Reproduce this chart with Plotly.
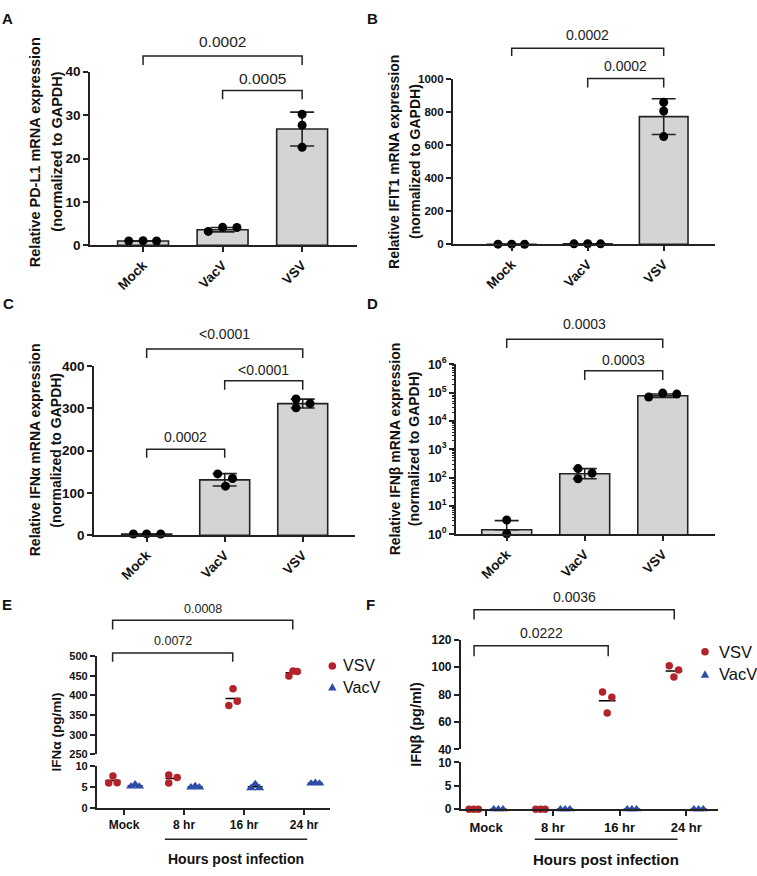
import numpy as np
import plotly.graph_objects as go

# ---------------- data ----------------
bar_groups = ["Mock", "VacV", "VSV"]

pdl1_points = [[1.0, 1.05, 1.0], [3.2, 4.15, 4.1], [30.2, 27.7, 22.6]]
pdl1_mean = [1.0, 3.6, 26.8]
pdl1_sd = [0.05, 0.5, 3.9]

ifit1_points = [[1.0, 1.2, 0.9], [3.0, 3.5, 3.0], [861.0, 808.0, 653.0]]
ifit1_mean = [1.0, 3.2, 774.0]
ifit1_sd = [0.15, 0.3, 108.0]

ifna_points = [[3.0, 3.2, 2.9], [145.0, 116.0, 134.0], [322.0, 301.0, 311.0]]
ifna_mean = [3.0, 131.0, 311.0]
ifna_sd = [0.2, 14.6, 10.5]

ifnb_points = [[3.2, 1.05], [208.0, 144.0, 91.5], [69800.0, 96100.0, 88700.0]]
ifnb_mean = [1.45, 137.0, 77700.0]
ifnb_err_up = [1.6, 71.0, 12000.0]
ifnb_err_down = [0.0, 45.5, 10000.0]

time_labels = ["Mock", "8 hr", "16 hr", "24 hr"]
series_names = ["VSV", "VacV"]
ifna_pg_vsv = [[6.0, 7.7, 6.1], [7.9, 6.0, 7.3], [374.2, 416.7, 385.0], [449.2, 462.5, 460.8]]
ifna_pg_vacv = [[5.2, 5.7, 5.2], [5.0, 5.3, 5.0], [4.8, 5.8, 4.8], [5.9, 6.1, 5.9]]
ifnb_pg_vsv = [[0.0, 0.0, 0.0], [0.0, 0.0, 0.0], [81.8, 66.5, 78.0], [101.1, 92.8, 98.0]]
ifnb_pg_vacv = [[0.0, 0.0, 0.0], [0.0, 0.0, 0.0], [0.0, 0.0, 0.0], [0.0, 0.0, 0.0]]

pvals_A = ["0.0002", "0.0005"]
pvals_B = ["0.0002", "0.0002"]
pvals_C = ["<0.0001", "<0.0001", "0.0002"]
pvals_D = ["0.0003", "0.0003"]
pvals_E = ["0.0008", "0.0072"]
pvals_F = ["0.0036", "0.0222"]

# ---------------- style / layout ----------------
W, H = 757, 876
FONT = "Liberation Sans, Arial, Helvetica, sans-serif"
INK = "#222222"
BAR_FILL = "#D4D4D4"
RED = "#B3242A"
BLUE = "#2D4DA8"

# dot jitter (category units)
pdl1_jit = [[-0.18, 0, 0.17], [-0.18, 0, 0.18], [0, 0, 0]]
ifit1_jit = [[-0.18, 0, 0.17], [-0.18, 0, 0.17], [0, 0, 0]]
ifna_jit = [[-0.17, 0, 0.18], [-0.09, 0.01, 0.10], [-0.086, -0.086, 0.094]]
ifnb_jit = [[0, 0], [-0.086, 0.094, -0.086], [-0.18, 0, 0.18]]
trip_jit = [-0.07, 0, 0.07]
E_vsv_jit = [trip_jit, [-0.07, -0.07, 0.07], trip_jit, trip_jit]
E_vacv_jit = [trip_jit] * 4
F_vsv_jit = [trip_jit] * 4
F_vacv_jit = [trip_jit] * 4

# panel geometry in pixels: (left, right), (top, bottom), x-range
geo = {
    "A": dict(x=(90, 357), y=(64, 241), xr=(-0.667, 2.69)),
    "B": dict(x=(452.7, 715), y=(71.7, 240), xr=(-0.776, 2.675)),
    "C": dict(x=(94, 355), y=(364, 536.7), xr=(-0.675, 2.67)),
    "D": dict(x=(456, 715), y=(362.3, 535.7), xr=(-0.65, 2.67)),
    "E": dict(x=(96.7, 330), y=(660, 815), xr=(-0.455, 3.43)),
    "F": dict(x=(460.7, 718.3), y=(643.3, 816), xr=(-0.38, 3.48)),
}
E_hi_y, E_lo_y = (660, 760), (772.3, 815)
F_hi_y, F_lo_y = (643.3, 755), (768.3, 816)


def pxX(x):
    return x / W


def pxY(y):
    return 1 - y / H


def xdom(p):
    a, b = geo[p]["x"]
    return [a / W, b / W]


def ydom(top, bottom):
    return [1 - bottom / H, 1 - top / H]


def cat2paper(p, v):
    a, b = geo[p]["x"]
    r0, r1 = geo[p]["xr"]
    return (a + (v - r0) / (r1 - r0) * (b - a)) / W


def tfont(size, bold=True, color="#111111"):
    d = dict(family=FONT, size=size, color=color)
    if bold:
        d["weight"] = "bold"
    return d


axis_common = dict(showline=True, linecolor=INK, linewidth=1.6, ticks="outside",
                   ticklen=5, tickwidth=1.6, tickcolor=INK, showgrid=False,
                   zeroline=False, fixedrange=True)

fig = go.Figure()
layout = dict(width=W, height=H, margin=dict(l=0, r=0, t=0, b=0), autosize=False,
              paper_bgcolor="white", plot_bgcolor="white", showlegend=False)

# ---------------- bar panels A-D ----------------
bar_panels = [
    ("A", "", pdl1_points, pdl1_mean, pdl1_sd, pdl1_sd, pdl1_jit, [0, 40], 10, 13.5, "linear"),
    ("B", "2", ifit1_points, ifit1_mean, ifit1_sd, ifit1_sd, ifit1_jit, [0, 1000], 200, 11.5, "linear"),
    ("C", "3", ifna_points, ifna_mean, ifna_sd, ifna_sd, ifna_jit, [0, 400], 100, 13.5, "linear"),
    ("D", "4", ifnb_points, ifnb_mean, ifnb_err_up, ifnb_err_down, ifnb_jit, [0, 6], None, 12.5, "log"),
]
for p, n, pts, means, eup, edn, jit, yr, dt, fs, ytype in bar_panels:
    xa, ya = "x" + n, "y" + n
    cats = list(range(len(bar_groups)))
    fig.add_trace(go.Bar(x=cats, y=means, width=0.64, xaxis=xa, yaxis=ya,
                         marker=dict(color=BAR_FILL, line=dict(color=INK, width=1.6)),
                         error_y=dict(type="data", array=eup, arrayminus=edn, symmetric=False,
                                      color=INK, thickness=1.6, width=12)))
    xs, ys = [], []
    for i, (grp, jj) in enumerate(zip(pts, jit)):
        for v, j in zip(grp, jj):
            xs.append(i + j)
            ys.append(v)
    fig.add_trace(go.Scatter(x=xs, y=ys, mode="markers", xaxis=xa, yaxis=ya, cliponaxis=False,
                             marker=dict(color="black", size=9, line=dict(width=0))))
    t, b = geo[p]["y"]
    layout["xaxis" + n] = dict(axis_common, domain=xdom(p), range=list(geo[p]["xr"]), anchor=ya,
                               tickmode="array", tickvals=cats, ticktext=bar_groups,
                               tickangle=-45, tickfont=tfont(13.5))
    yax = dict(axis_common, domain=ydom(t, b), range=yr, anchor=xa, type=ytype, tickfont=tfont(fs))
    if ytype == "log":
        decades = list(range(0, 7))
        yax.update(tickmode="array", tickvals=[10 ** k for k in decades],
                   ticktext=["10<sup>%d</sup>" % k for k in decades],
                   minor=dict(ticks="outside", ticklen=2.5, tickwidth=1, tickcolor=INK,
                              tickmode="array",
                              tickvals=[m * 10 ** k for k in range(0, 6) for m in range(2, 10)]))
    else:
        yax.update(dtick=dt, tick0=0)
    layout["yaxis" + n] = yax

# ---------------- time-course panels E, F ----------------
def time_panel(p, nlo, nhi, vsv, vacv, jv, jc, lo_rng, hi_rng, hi_dt, lo_y, hi_y, fs, yfs):
    xlo, ylo, xhi, yhi = "x" + nlo, "y" + nlo, "x" + nhi, "y" + nhi
    split = lo_rng[1]
    off = 0.185
    line_tr, mark_tr = [], []
    for vals, jits, o, color, sym, sz in [(vsv, jv, -off, RED, "circle", 7.5),
                                          (vacv, jc, off, BLUE, "triangle-up", 8.5)]:
        d = {"lo": ([], [], [], []), "hi": ([], [], [], [])}
        for i, (grp, jj) in enumerate(zip(vals, jits)):
            c = i + o
            for v, j in zip(grp, jj):
                k = "lo" if v <= split else "hi"
                d[k][0].append(c + j)
                d[k][1].append(v)
            m = float(np.mean(grp))
            k = "lo" if m <= split else "hi"
            d[k][2].extend([c - 0.125, c + 0.125, None])
            d[k][3].extend([m, m, None])
        for k, (xa, ya) in (("lo", (xlo, ylo)), ("hi", (xhi, yhi))):
            px_, py_, lx, ly = d[k]
            if lx:
                line_tr.append(go.Scatter(x=lx, y=ly, mode="lines", xaxis=xa, yaxis=ya,
                                          cliponaxis=False, line=dict(color="black", width=1.5)))
            if px_:
                mark_tr.append(go.Scatter(x=px_, y=py_, mode="markers", xaxis=xa, yaxis=ya,
                                          cliponaxis=False,
                                          marker=dict(color=color, symbol=sym, size=sz,
                                                      line=dict(width=0))))
    for tr in line_tr + mark_tr:
        fig.add_trace(tr)
    cats = list(range(len(time_labels)))
    layout["xaxis" + nlo] = dict(axis_common, domain=xdom(p), range=list(geo[p]["xr"]), anchor=ylo,
                                 tickmode="array", tickvals=cats, ticktext=time_labels,
                                 tickfont=tfont(fs))
    layout["xaxis" + nhi] = dict(domain=xdom(p), range=list(geo[p]["xr"]), anchor=yhi,
                                 visible=False, fixedrange=True)
    layout["yaxis" + nlo] = dict(axis_common, domain=ydom(*lo_y), range=lo_rng, anchor=xlo,
                                 tick0=0, dtick=5, tickfont=tfont(yfs))
    layout["yaxis" + nhi] = dict(axis_common, domain=ydom(*hi_y), range=hi_rng, anchor=xhi,
                                 tick0=hi_rng[0], dtick=hi_dt, tickfont=tfont(yfs))


time_panel("E", "5", "6", ifna_pg_vsv, ifna_pg_vacv, E_vsv_jit, E_vacv_jit,
           [0, 10], [250, 500], 50, E_lo_y, E_hi_y, 12, 11)
time_panel("F", "7", "8", ifnb_pg_vsv, ifnb_pg_vacv, F_vsv_jit, F_vacv_jit,
           [0, 10], [40, 120], 20, F_lo_y, F_hi_y, 13, 12)

# ---------------- annotations & shapes ----------------
shapes, annos = [], []


def text(x, y, s, size, bold=False, angle=0, xanchor="center"):
    annos.append(dict(x=pxX(x), y=pxY(y), xref="paper", yref="paper", text=s, showarrow=False,
                      textangle=angle, xanchor=xanchor, yanchor="middle", font=tfont(size, bold)))


def bracket(p, c0, c1, ybar, ytick, label, ylab, size):
    x0, x1 = cat2paper(p, c0), cat2paper(p, c1)
    shapes.append(dict(type="path", xref="paper", yref="paper",
                       path="M %f,%f L %f,%f L %f,%f L %f,%f" % (
                           x0, pxY(ytick), x0, pxY(ybar), x1, pxY(ybar), x1, pxY(ytick)),
                       line=dict(color=INK, width=1.5)))
    annos.append(dict(x=(x0 + x1) / 2, y=pxY(ylab), xref="paper", yref="paper", text=label,
                      showarrow=False, xanchor="center", yanchor="middle",
                      font=tfont(size, False, "#222222")))


bracket("A", 0, 2, 48, 57, pvals_A[0], 33, 15.5)
bracket("A", 1, 2, 83, 92, pvals_A[1], 71, 15.5)
bracket("B", 0, 2, 40, 48, pvals_B[0], 27, 14)
bracket("B", 1, 2, 71, 80, pvals_B[1], 58, 14)
bracket("C", 0, 2, 346.7, 356, pvals_C[0], 331.7, 14)
bracket("C", 1, 2, 379, 388.3, pvals_C[1], 368, 14)
bracket("C", 0, 1, 449, 457.7, pvals_C[2], 436.7, 14)
bracket("D", 0, 2, 336.7, 345.7, pvals_D[0], 321.7, 14)
bracket("D", 1, 2, 369, 378.3, pvals_D[1], 358.3, 14)
bracket("E", -0.19, 2.81, 623.3, 632.7, pvals_E[0], 612.3, 12.5)
bracket("E", -0.19, 1.81, 656.7, 665.7, pvals_E[1], 645, 12.5)
bracket("F", -0.18, 2.82, 612.7, 622.7, pvals_F[0], 600, 14)
bracket("F", -0.18, 1.83, 649.3, 660, pvals_F[1], 636.7, 14)

# y-axis titles
text(35, 146, "Relative PD-L1 mRNA expression", 14.5, True, -90)
text(57.5, 146, "(normalized to GAPDH)", 14.5, True, -90)
text(394, 156, "Relative IFIT1 mRNA expression", 14, True, -90)
text(415, 156, "(normalized to GAPDH)", 14, True, -90)
text(35, 450, "Relative IFNα mRNA expression", 14, True, -90)
text(56.5, 450, "(normalized to GAPDH)", 14, True, -90)
text(395, 449, "Relative IFNβ mRNA expression", 14, True, -90)
text(414, 449, "(normalized to GAPDH)", 14, True, -90)
text(56.7, 737, "IFNα (pg/ml)", 13.5, True, -90)
text(416, 730, "IFNβ (pg/ml)", 14.5, True, -90)

# x-axis group lines and titles
for p, c0, c1, ylab, fs in (("E", 0.68, 3.05, 867, 14), ("F", 0.73, 2.87, 867.3, 15)):
    shapes.append(dict(type="line", xref="paper", yref="paper", x0=cat2paper(p, c0),
                       x1=cat2paper(p, c1), y0=pxY(846.7), y1=pxY(846.7),
                       line=dict(color=INK, width=1.5)))
    mid = (cat2paper(p, c0) + cat2paper(p, c1)) / 2 * W
    text(mid, ylab, "Hours post infection", fs, True)

# legends for E and F
for mx, my0, my1, tx, fs in ((332.3, 670, 691.5, 340.5, 16), (705, 655.5, 678.5, 717, 16.5)):
    shapes.append(dict(type="circle", xref="paper", yref="paper", xsizemode="pixel",
                       ysizemode="pixel", xanchor=pxX(mx), yanchor=pxY(my0),
                       x0=-3.8, x1=3.8, y0=-3.8, y1=3.8, fillcolor=RED, line=dict(width=0)))
    shapes.append(dict(type="path", xref="paper", yref="paper", xsizemode="pixel",
                       ysizemode="pixel", xanchor=pxX(mx), yanchor=pxY(my1),
                       path="M -4.2,-3.3 L 4.2,-3.3 L 0,4 Z", fillcolor=BLUE, line=dict(width=0)))
    text(tx, my0, series_names[0], fs, False, 0, "left")
    text(tx, my1, series_names[1], fs, False, 0, "left")

# panel letters
for lab, x, y in (("A", 7, 10), ("B", 372, 10), ("C", 8, 300), ("D", 372, 300),
                  ("E", 7, 607), ("F", 370, 607)):
    text(x, y, lab, 15, True)

layout["shapes"] = shapes
layout["annotations"] = annos
fig.update_layout(**layout)

fig.write_html("out.html", include_plotlyjs=True, config={"displayModeBar": False},
               post_script="document.body.style.margin='0';document.body.style.padding='0';")
